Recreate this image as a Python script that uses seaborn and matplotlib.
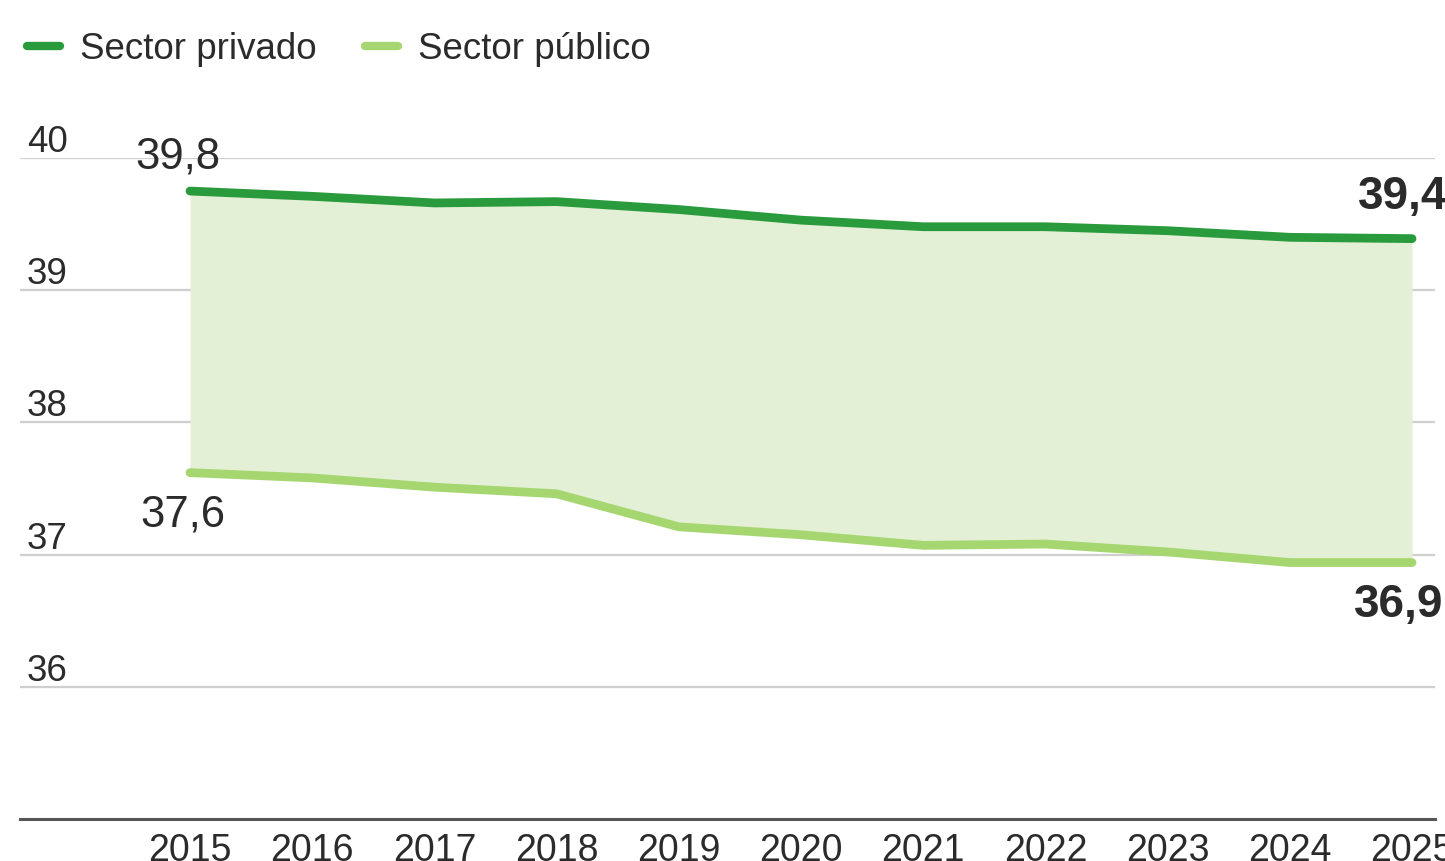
import matplotlib
matplotlib.use("Agg")
import pandas as pd
import seaborn as sns
from matplotlib import pyplot as plt

years = list(range(2015, 2026))
privado = [39.75, 39.71, 39.66, 39.67, 39.61, 39.53, 39.48, 39.48, 39.45, 39.40, 39.39]
publico = [37.62, 37.58, 37.51, 37.46, 37.21, 37.15, 37.07, 37.08, 37.02, 36.94, 36.94]
series = ["Sector privado", "Sector público"]
y_ticks = [35, 36, 37, 38, 39, 40]
start_labels = ["39,8", "37,6"]
end_labels = ["39,4", "36,9"]

df = pd.DataFrame({
    "year": years * 2,
    "value": privado + publico,
    "sector": [series[0]] * len(years) + [series[1]] * len(years),
})

sns.set_theme(style="white")
plt.rcParams["font.family"] = ["Liberation Sans", "DejaVu Sans"]

dark_green = "#2a9b3c"
light_green = "#a6d670"
fill_col = "#e3f0d6"
txt = "#2b2b2b"

fig = plt.figure(figsize=(14.45, 8.61), dpi=100)
ax = fig.add_axes([20 / 1445, 42 / 861, 1415 / 1445, 661 / 861])

ax.set_ylim(35, 40)
ax.set_xlim(2013.609, 2025.188)

# horizontal grid (behind the band)
for t in y_ticks[1:]:
    ax.axhline(t, color="#cfcfcf", linewidth=1.6, zorder=0)
    ax.text(0.005, t + 0.045, str(t), transform=ax.get_yaxis_transform(),
            ha="left", va="baseline", fontsize=26.5, color=txt)

ax.fill_between(years, publico, privado, color=fill_col, linewidth=0, zorder=1)

sns.lineplot(data=df, x="year", y="value", hue="sector",
             palette=[dark_green, light_green], linewidth=6.3, ax=ax, zorder=3)
for ln in ax.lines[-2:]:
    ln.set_solid_capstyle("round")
    ln.set_solid_joinstyle("round")

# start / end value labels
ax.annotate(start_labels[0], (years[0], privado[0]), xytext=(-9, 16), textcoords="offset points",
            ha="center", va="baseline", fontsize=31.5, color=txt)
ax.annotate(start_labels[1], (years[0], publico[0]), xytext=(-5, -39), textcoords="offset points",
            ha="center", va="baseline", fontsize=31.5, color=txt)
ax.annotate(end_labels[0], (years[-1], privado[-1]), xytext=(-39, 21.5), textcoords="offset points",
            ha="left", va="baseline", fontsize=33, fontweight="bold", color=txt)
ax.annotate(end_labels[1], (years[-1], publico[-1]), xytext=(-41.5, -39.5), textcoords="offset points",
            ha="left", va="baseline", fontsize=33, fontweight="bold", color=txt)

ax.set_xticks(years)
ax.set_xticklabels([str(y) for y in years], fontsize=27, color=txt)
ax.set_yticks([])
ax.tick_params(axis="x", length=0, pad=10)
ax.set_xlabel("")
ax.set_ylabel("")

for s in ["top", "left", "right"]:
    ax.spines[s].set_visible(False)
ax.spines["bottom"].set_color("#555555")
ax.spines["bottom"].set_linewidth(2.2)

handles, labels = ax.get_legend_handles_labels()
for h in handles:
    h.set_linewidth(6)
    h.set_solid_capstyle("round")
ax.legend(handles, labels, loc="upper left", bbox_to_anchor=(27 / 1445, 1 - 32 / 861),
          bbox_transform=fig.transFigure, ncol=2, frameon=False, fontsize=26.5,
          handlelength=0.9, handletextpad=0.55, columnspacing=1.3,
          borderpad=0, borderaxespad=0, labelcolor=txt)

fig.savefig("out.png", dpi=100)
